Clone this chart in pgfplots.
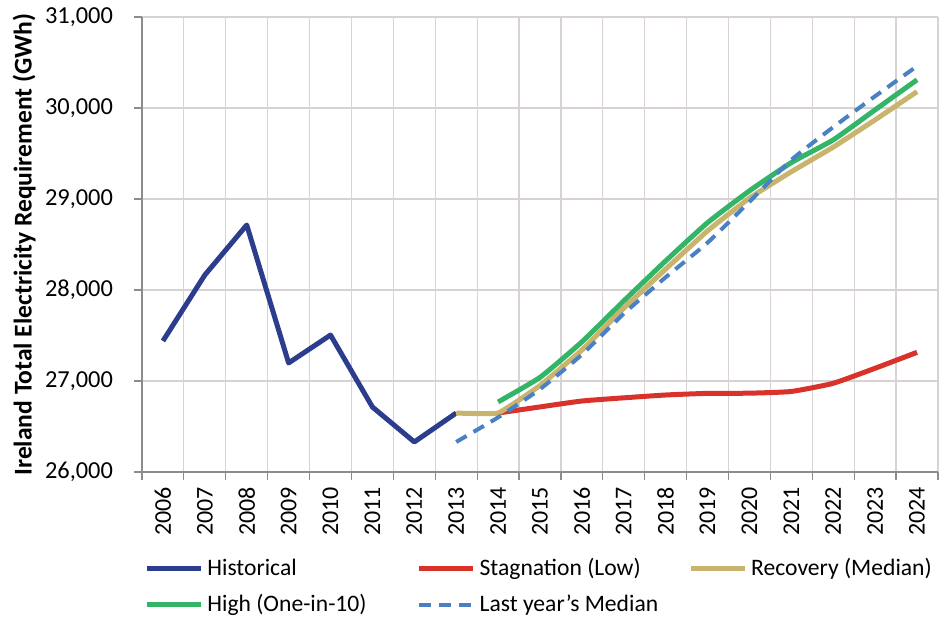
\documentclass[border=0pt]{standalone}
\usepackage{pgfplots}
\pgfplotsset{compat=1.18}
\usepackage{fontspec}
\setmainfont{Carlito}
\definecolor{histc}{HTML}{2B3D8C}
\definecolor{redc}{HTML}{D8322B}
\definecolor{tanc}{HTML}{C8B46C}
\definecolor{greenc}{HTML}{33B466}
\definecolor{dashc}{HTML}{4A80C4}
\definecolor{gridc}{HTML}{D9D2D2}
\definecolor{axisc}{HTML}{8C8C8C}
\begin{document}
\begin{tikzpicture}
\begin{axis}[
  name=ax,
  scale only axis, width=398pt, height=227.5pt,
  xmin=2005.5, xmax=2024.5, ymin=26000, ymax=31000,
  axis x line*=bottom, axis y line*=left,
  axis line style={draw=axisc, line width=0.8pt},
  xtick={2006,2007,...,2024},
  minor xtick={2005.5,2006.5,...,2024.5},
  ytick={26000,27000,...,31000},
  scaled y ticks=false,
  tick align=outside,
  major tick length=4pt, minor tick length=4pt,
  major x tick style={draw=none},
  minor x tick style={draw=axisc, line width=0.6pt},
  major y tick style={draw=axisc, line width=0.6pt},
  xminorgrids=true, ymajorgrids=true,
  minor x grid style={draw=gridc, line width=0.6pt},
  major y grid style={draw=gridc, line width=0.6pt},
  x tick label style={rotate=90, anchor=east, font=\fontsize{12}{12}\selectfont, /pgf/number format/1000 sep={}, /pgf/number format/assume math mode=true},
  y tick label style={xshift=-7pt, font=\fontsize{12.2}{12.2}\selectfont, /pgf/number format/fixed, /pgf/number format/1000 sep={,}, /pgf/number format/assume math mode=true},
  ylabel={Ireland Total Electricity Requirement (GWh)},
  every axis y label/.style={at={(axis description cs:-0.148,0.5)}, rotate=90, anchor=center, font=\bfseries\fontsize{12.8}{12.8}\selectfont},
  legend columns=3,
  legend cell align=left,
  legend image code/.code={\draw[#1] (0pt,0pt) -- (27pt,0pt);},
  legend style={at={(axis description cs:0,0)}, anchor=north west, xshift=1pt, yshift=-41pt,
    draw=none, fill=none, inner sep=0pt, font=\fontsize{11.8}{11.8}\selectfont,
    /tikz/column 2/.style={column sep=23pt},
    /tikz/column 4/.style={column sep=13pt},
    row sep=4pt},
]
\addplot[histc, line width=2.5pt, line join=round] coordinates {
(2006,27440) (2007,28165) (2008,28714) (2009,27198) (2010,27505) (2011,26714) (2012,26330) (2013,26648)};
\addlegendentry{Historical}
\addplot[redc, line width=2.5pt, smooth, tension=0.3] coordinates {
(2014,26648) (2015,26715) (2016,26780) (2017,26815) (2018,26846) (2019,26864) (2020,26866) (2021,26885) (2022,26975) (2023,27140) (2024,27315)};
\addlegendentry{Stagnation (Low)}
\addplot[tanc, line width=2.5pt, smooth, tension=0.2] coordinates {
(2013,26648) (2014,26648) (2015,26950) (2016,27340) (2017,27800) (2018,28230) (2019,28650) (2020,29010) (2021,29300) (2022,29570) (2023,29870) (2024,30180)};
\addlegendentry{Recovery (Median)}
\addplot[greenc, line width=2.5pt, smooth, tension=0.3] coordinates {
(2014,26770) (2015,27040) (2016,27430) (2017,27880) (2018,28320) (2019,28740) (2020,29090) (2021,29400) (2022,29650) (2023,29980) (2024,30310)};
\addlegendentry{High (One-in-10)}
\addplot[dashc, line width=2pt, dash pattern=on 6pt off 4pt, smooth, tension=0.3] coordinates {
(2013,26330) (2014,26600) (2015,26910) (2016,27290) (2017,27740) (2018,28140) (2019,28520) (2020,28970) (2021,29430) (2022,29790) (2023,30130) (2024,30460)};
\addlegendentry{Last year's Median}
\end{axis}
\path ([shift={(-71pt,-71pt)}]ax.south west) rectangle ([shift={(5pt,8.5pt)}]ax.north east);
\end{tikzpicture}
\end{document}
